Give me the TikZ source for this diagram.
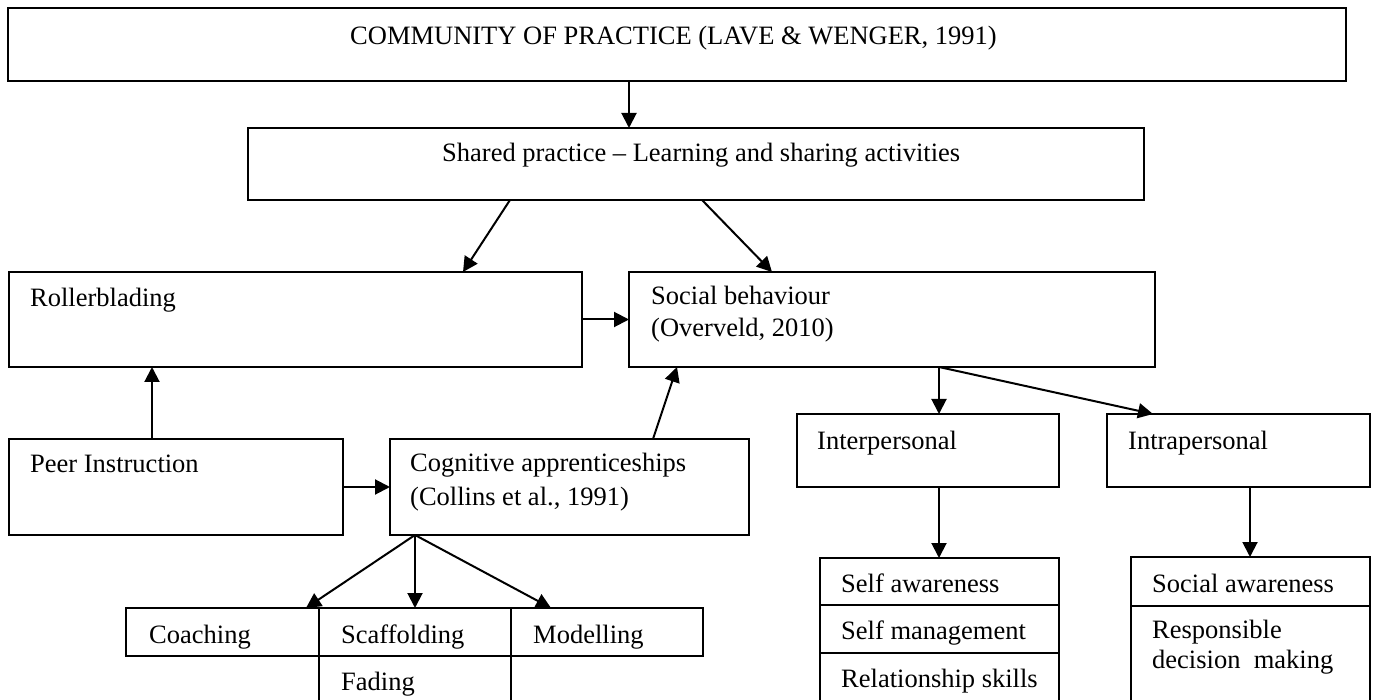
\documentclass[tikz,border=0pt]{standalone}
\usepackage{fontspec}
\setmainfont{Liberation Serif}
\usetikzlibrary{arrows.meta,fit}
\begin{document}
\begin{tikzpicture}[x=1pt,y=-1pt,
  box/.style={draw,line width=2pt,inner sep=0pt,outer sep=0pt},
  txt/.style={inner sep=0pt,font=\fontsize{26.5pt}{32pt}\selectfont},
  lbl/.style={txt,anchor=base west},
  arr/.style={line width=2pt,-{Triangle[length=15pt,width=15pt]}},
  line join=miter]
\useasboundingbox (0,0) rectangle (1377,700);
\fill[white] (0,0) rectangle (1377,700);
\clip (0,0) rectangle (1377,700);

% boxes
\node[box,fit={(8,8) (1346,81)}] (cop) {};
\node[box,fit={(248,128) (1144,200)}] (sp) {};
\node[box,fit={(9,272) (582,367)}] (roll) {};
\node[box,fit={(629,272) (1155,367)}] (soc) {};
\node[box,fit={(9,439) (343,535)}] (peer) {};
\node[box,fit={(390,439) (749,535)}] (cog) {};
\node[box,fit={(797,414) (1059,487)}] (inter) {};
\node[box,fit={(1107,414) (1370,487)}] (intra) {};
% cognitive apprenticeship methods
\node[box,fit={(126,608) (319,656)}] (coach) {};
\node[box,fit={(319,608) (511,656)}] (scaf) {};
\node[box,fit={(511,608) (703,656)}] (model) {};
\node[box,fit={(319,656) (511,720)}] (fade) {};
% interpersonal skills
\node[box,fit={(820,558) (1059,605)}] (self1) {};
\node[box,fit={(820,605) (1059,653)}] (self2) {};
\node[box,fit={(820,653) (1059,720)}] (self3) {};
% intrapersonal skills
\node[box,fit={(1131,557) (1370,606)}] (saw) {};
\node[box,fit={(1131,606) (1370,720)}] (resp) {};

% labels
\node[lbl] (t-cop) at (350,45) {COMMUNITY OF PRACTICE (LAVE \& WENGER, 1991)};
\node[lbl] (t-sp) at (442,162) {Shared practice – Learning and sharing activities};
\node[lbl] (t-roll) at (30,307) {Rollerblading};
\node[lbl] (t-soc1) at (651,305) {Social behaviour};
\node[lbl] (t-soc2) at (651,337) {(Overveld, 2010)};
\node[lbl] (t-peer) at (30,473) {Peer Instruction};
\node[lbl] (t-cog1) at (410,472) {Cognitive apprenticeships};
\node[lbl] (t-cog2) at (410,505) {(Collins et al., 1991)};
\node[lbl] (t-inter) at (817,450) {Interpersonal};
\node[lbl] (t-intra) at (1128,450) {Intrapersonal};
\node[lbl] (t-coach) at (149,643) {Coaching};
\node[lbl] (t-scaf) at (341,643) {Scaffolding};
\node[lbl] (t-model) at (533,643) {Modelling};
\node[lbl] (t-fade) at (341,690) {Fading};
\node[lbl] (t-self1) at (841,592) {Self awareness};
\node[lbl] (t-self2) at (841,639) {Self management};
\node[lbl] (t-self3) at (841,687) {Relationship skills};
\node[lbl] (t-saw) at (1152,592) {Social awareness};
\node[lbl] (t-resp1) at (1152,638) {Responsible};
\node[lbl] (t-resp2) at (1152,668) {decision\ \ making};

% connectors
\draw[arr] ([xshift=621pt]cop.south west) -- ([xshift=381pt]sp.north west);
\draw[arr] ([xshift=262pt]sp.south west) -- ([xshift=454pt]roll.north west);
\draw[arr] ([xshift=454pt]sp.south west) -- ([xshift=143pt]soc.north west);
\draw[arr] (roll.east) -- (roll.east -| soc.west);
\draw[arr] ([xshift=143pt]peer.north west) -- ([xshift=143pt]roll.south west);
\draw[arr] (peer.east) -- (peer.east -| cog.west);
\draw[arr] ([xshift=263pt]cog.north west) -- ([xshift=48pt]soc.south west);
\draw[arr] ([xshift=310pt]soc.south west) -- ([xshift=142pt]inter.north west);
\draw[arr] ([xshift=310pt]soc.south west) -- ([xshift=46pt]intra.north west);
\draw[arr] ([xshift=142pt]inter.south west) -- ([xshift=119pt]self1.north west);
\draw[arr] ([xshift=143pt]intra.south west) -- ([xshift=119pt]saw.north west);
\draw[arr] ([xshift=25pt]cog.south west) -- ([xshift=180pt]coach.north west);
\draw[arr] ([xshift=25pt]cog.south west) -- ([xshift=96pt]scaf.north west);
\draw[arr] ([xshift=25pt]cog.south west) -- ([xshift=40pt]model.north west);
\end{tikzpicture}
\end{document}
